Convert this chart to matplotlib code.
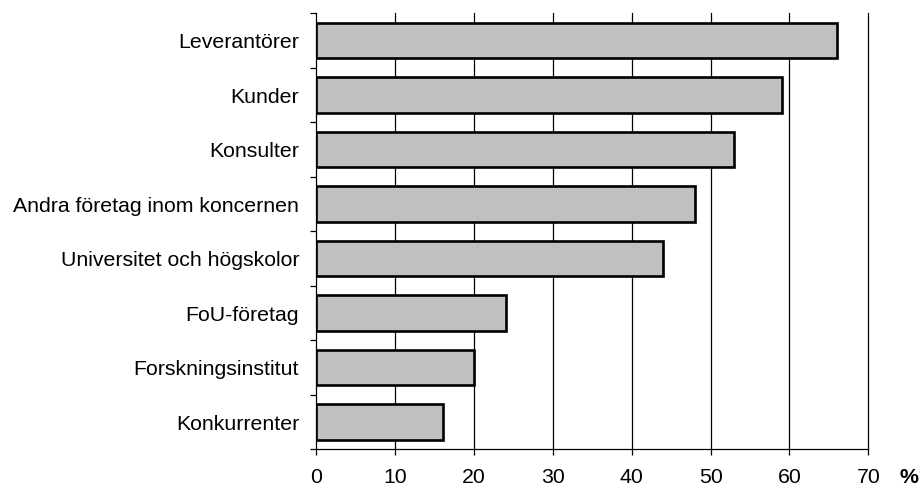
import numpy as np
import matplotlib
matplotlib.use("Agg")
import matplotlib.pyplot as plt

# data, top to bottom as in the chart
categories = [
    "Leverantörer",
    "Kunder",
    "Konsulter",
    "Andra företag inom koncernen",
    "Universitet och högskolor",
    "FoU-företag",
    "Forskningsinstitut",
    "Konkurrenter",
]
values = [66, 59, 53, 48, 44, 24, 20, 16]
xticks = [0, 10, 20, 30, 40, 50, 60, 70]

plt.rcParams["font.family"] = ["Liberation Sans", "DejaVu Sans"]
FS = 15.3

fig = plt.figure(figsize=(9.23, 4.88), dpi=100)
ax = fig.add_axes([0.3429, 0.0793, 0.5978, 0.8934])

n = len(categories)
ypos = np.arange(n)[::-1]  # first category at the top

ax.barh(ypos, values, height=0.65, color="#c0c0c0",
        edgecolor="black", linewidth=1.9, zorder=3)

ax.set_xlim(0, 70)
ax.set_ylim(-0.5, n - 0.5)

# vertical grid lines (70 sits on the right edge, so no clipping)
for x in xticks[1:]:
    ax.axvline(x, color="black", linewidth=0.9, zorder=1, clip_on=False)

ax.set_xticks(xticks)
ax.set_xticklabels([str(t) for t in xticks], fontsize=FS)
ax.tick_params(axis="x", direction="out", length=4.5, width=0.9, pad=9)

# category labels at centers, ticks at boundaries
ax.set_yticks(ypos)
ax.set_yticklabels(categories, fontsize=FS)
ax.set_yticks(np.arange(n + 1) - 0.5, minor=True)
ax.tick_params(axis="y", which="major", length=0, pad=12.5)
ax.tick_params(axis="y", which="minor", direction="out", length=4.5, width=0.9)

for s in ["top", "right"]:
    ax.spines[s].set_visible(False)
for s in ["left", "bottom"]:
    ax.spines[s].set_linewidth(0.9)

fig.text(0.995, 0.0205, "%", fontsize=FS, fontweight="bold",
         ha="right", va="center")

fig.savefig("out.png", dpi=100, facecolor="white")
